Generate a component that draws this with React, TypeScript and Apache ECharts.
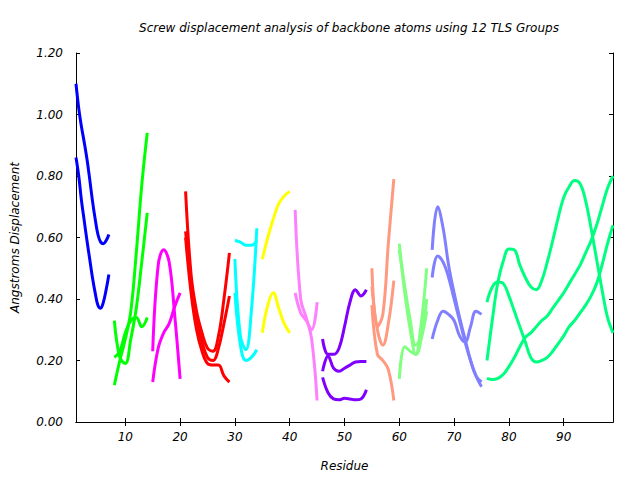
import React, { useEffect, useRef } from "react";
import * as echarts from "echarts";

const chartTitle = "Screw displacement analysis of backbone atoms using 12 TLS Groups";
const xName = "Residue";
const yName = "Angstroms Displacement";
const xTicks = [10, 20, 30, 40, 50, 60, 70, 80, 90];

// TLS group 1 (blue)
const res1 = [1, 1.5, 2, 2.5, 3, 3.5, 4, 4.5, 5, 5.5, 6, 6.5, 7];
const blueA = [1.1, 1.02, 0.96, 0.91, 0.855, 0.79, 0.72, 0.66, 0.61, 0.585, 0.58, 0.59, 0.61];
const blueB = [0.86, 0.8, 0.72, 0.655, 0.59, 0.53, 0.47, 0.42, 0.38, 0.37, 0.39, 0.43, 0.48];
// TLS group 2 (green)
const res2 = [8, 9, 10, 11, 12, 13, 14];
const greenA = [0.12, 0.2, 0.27, 0.36, 0.55, 0.77, 0.94];
const greenB = [0.33, 0.21, 0.19, 0.27, 0.37, 0.52, 0.68];
const greenC = [0.21, 0.23, 0.29, 0.33, 0.34, 0.31, 0.34];
// TLS group 3 (magenta)
const res3 = [15, 16, 17, 18, 19, 20];
const magentaA = [0.23, 0.51, 0.56, 0.52, 0.35, 0.14];
const magentaB = [0.13, 0.24, 0.29, 0.32, 0.375, 0.42];
// TLS group 4 (red)
const res4 = [21, 22, 23, 24, 25, 26, 27, 28, 29];
const redA = [0.75, 0.48, 0.36, 0.29, 0.24, 0.23, 0.28, 0.4, 0.55];
const redB = [0.62, 0.45, 0.33, 0.26, 0.21, 0.2, 0.24, 0.32, 0.41];
const redC = [0.6, 0.42, 0.3, 0.23, 0.19, 0.185, 0.185, 0.15, 0.13];
// TLS group 5 (cyan)
const res5 = [30, 31, 32, 33, 34];
const cyanA = [0.59, 0.585, 0.575, 0.575, 0.59];
const cyanB = [0.53, 0.28, 0.235, 0.36, 0.63];
const cyanC = [0.42, 0.25, 0.2, 0.21, 0.235];
// TLS group 6 (yellow)
const res6 = [35, 36, 37, 38, 39, 40];
const yellowA = [0.53, 0.6, 0.66, 0.71, 0.735, 0.75];
const yellowB = [0.29, 0.38, 0.42, 0.37, 0.32, 0.29];
// TLS group 7 (pink)
const res7 = [41, 42, 43, 44, 45];
const pinkA = [0.69, 0.4, 0.34, 0.27, 0.07];
const pinkB = [0.42, 0.355, 0.33, 0.3, 0.39];
// TLS group 8 (purple)
const res8 = [46, 47, 48, 49, 50, 51, 52, 53, 54];
const purpleA = [0.27, 0.22, 0.22, 0.24, 0.31, 0.39, 0.43, 0.41, 0.43];
const purpleB = [0.165, 0.215, 0.175, 0.165, 0.175, 0.185, 0.195, 0.197, 0.197];
const purpleC = [0.145, 0.095, 0.075, 0.072, 0.077, 0.075, 0.072, 0.075, 0.105];
// TLS group 9 (salmon)
const res9 = [55, 56, 57, 58, 59];
const salmonA = [0.5, 0.31, 0.35, 0.58, 0.79];
const salmonB = [0.44, 0.3, 0.25, 0.32, 0.46];
const salmonC = [0.38, 0.22, 0.2, 0.17, 0.07];
// TLS group 10 (light green)
const res10 = [60, 61, 62, 63, 64, 65];
const lightGreenA = [0.58, 0.42, 0.3, 0.22, 0.32, 0.5];
const lightGreenB = [0.56, 0.44, 0.33, 0.25, 0.28, 0.4];
const lightGreenC = [0.14, 0.245, 0.23, 0.22, 0.27, 0.36];
// TLS group 11 (periwinkle)
const res11 = [66, 67, 68, 69, 70, 71, 72, 73, 74, 75];
const periA = [0.56, 0.7, 0.63, 0.51, 0.42, 0.34, 0.27, 0.2, 0.15, 0.115];
const periB = [0.47, 0.54, 0.52, 0.47, 0.4, 0.33, 0.26, 0.2, 0.15, 0.13];
const periC = [0.27, 0.33, 0.36, 0.35, 0.33, 0.28, 0.26, 0.31, 0.36, 0.35];
// TLS group 12 (spring green)
const res12 = [76, 77, 78, 79, 80, 81, 82, 83, 84, 85, 86, 87, 88, 89, 90, 91, 92, 93, 94, 95, 96, 97, 98, 99];
const springA = [0.2, 0.335, 0.455, 0.525, 0.563, 0.56, 0.51, 0.47, 0.44, 0.43, 0.46, 0.52, 0.59, 0.665, 0.73, 0.765, 0.785, 0.775, 0.72, 0.63, 0.53, 0.43, 0.34, 0.29];
const springB = [0.39, 0.44, 0.455, 0.45, 0.41, 0.36, 0.31, 0.26, 0.21, 0.195, 0.2, 0.21, 0.23, 0.255, 0.28, 0.31, 0.33, 0.355, 0.38, 0.41, 0.45, 0.51, 0.58, 0.64];
const springC = [0.142, 0.138, 0.142, 0.155, 0.18, 0.21, 0.245, 0.275, 0.29, 0.31, 0.33, 0.345, 0.37, 0.395, 0.42, 0.45, 0.48, 0.51, 0.55, 0.59, 0.64, 0.7, 0.76, 0.8];

const groups = [
  { res: res1, lines: [blueA, blueB], color: "#0000ff" },
  { res: res2, lines: [greenA, greenB, greenC], color: "#00ff00" },
  { res: res3, lines: [magentaA, magentaB], color: "#ff00ff" },
  { res: res4, lines: [redA, redB, redC], color: "#ff0000" },
  { res: res5, lines: [cyanA, cyanB, cyanC], color: "#00ffff" },
  { res: res6, lines: [yellowA, yellowB], color: "#ffff00" },
  { res: res7, lines: [pinkA, pinkB], color: "#ff80ff" },
  { res: res8, lines: [purpleA, purpleB, purpleC], color: "#8000ff" },
  { res: res9, lines: [salmonA, salmonB, salmonC], color: "#ff9980" },
  { res: res10, lines: [lightGreenA, lightGreenB, lightGreenC], color: "#80ff80" },
  { res: res11, lines: [periA, periB, periC], color: "#8080ff" },
  { res: res12, lines: [springA, springB, springC], color: "#00ff80" },
];

const FONT = "DejaVu Sans";

export default function App() {
  const ref = useRef<HTMLDivElement>(null);
  useEffect(() => {
    if (!ref.current) return;
    const chart = echarts.init(ref.current, undefined, { renderer: "svg" });
    const series: any[] = [];
    groups.forEach((g, gi) => {
      g.lines.forEach((vals, li) => {
        series.push({
          type: "line",
          name: `g${gi + 1}_${li + 1}`,
          xAxisIndex: 0,
          yAxisIndex: 0,
          data: g.res.map((r, i) => [r, vals[i]]),
          smooth: 0.4,
          showSymbol: false,
          symbol: "none",
          lineStyle: { width: 3, color: g.color },
          itemStyle: { color: g.color },
          z: 3,
        });
      });
    });
    const labelStyle = { fontFamily: FONT, fontStyle: "italic", fontSize: 12, color: "#000" };
    const axisLine = { show: true, lineStyle: { color: "#000", width: 1 } };
    chart.setOption({
      animation: false,
      backgroundColor: "#fff",
      title: {
        text: chartTitle,
        left: 344,
        top: 17,
        textAlign: "center",
        textStyle: { fontFamily: FONT, fontStyle: "italic", fontWeight: "normal", fontSize: 12, color: "#000" },
      },
      grid: { left: 76, right: 27, top: 53, bottom: 58, containLabel: false },
      xAxis: [
        {
          type: "value",
          min: 1,
          max: 99,
          name: xName,
          nameLocation: "middle",
          nameGap: 38,
          nameTextStyle: labelStyle,
          axisLine,
          axisTick: { show: true, inside: true, length: 4, customValues: xTicks, lineStyle: { color: "#000" } },
          axisLabel: { ...labelStyle, margin: 9, customValues: xTicks },
          splitLine: { show: false },
        },
        {
          type: "value",
          position: "top",
          min: 1,
          max: 99,
          axisLine,
          axisTick: { show: true, inside: true, length: 4, customValues: xTicks, lineStyle: { color: "#000" } },
          axisLabel: { show: false },
          splitLine: { show: false },
        },
      ],
      yAxis: [
        {
          type: "value",
          min: 0,
          max: 1.2,
          interval: 0.2,
          name: yName,
          nameLocation: "middle",
          nameGap: 55,
          nameTextStyle: labelStyle,
          axisLine,
          axisTick: { show: true, inside: true, length: 4, lineStyle: { color: "#000" } },
          axisLabel: { ...labelStyle, margin: 13, formatter: (v: number) => v.toFixed(2) },
          splitLine: { show: false },
        },
        {
          type: "value",
          position: "right",
          min: 0,
          max: 1.2,
          interval: 0.2,
          axisLine,
          axisTick: { show: true, inside: true, length: 4, lineStyle: { color: "#000" } },
          axisLabel: { show: false },
          splitLine: { show: false },
        },
      ],
      series,
    });
    return () => chart.dispose();
  }, []);
  return (
    <div
      ref={ref}
      style={{ position: "fixed", left: 0, top: 0, width: 640, height: 480, background: "#fff" }}
    />
  );
}
